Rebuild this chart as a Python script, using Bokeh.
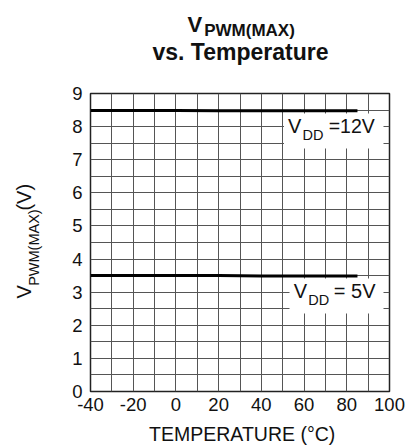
import math
from bokeh.plotting import figure
from bokeh.models import FixedTicker, ColumnDataSource, Range1d
from bokeh.layouts import column, row
from bokeh.core.properties import value
from bokeh.embed import file_html
from bokeh.resources import INLINE

# ---- data ----
temps = [-40, -20, 0, 20, 40, 60, 85]
v_12v = [8.49, 8.49, 8.49, 8.48, 8.48, 8.48, 8.48]
v_5v = [3.50, 3.50, 3.50, 3.50, 3.49, 3.49, 3.49]

x_ticks = [-40, -20, 0, 20, 40, 60, 80, 100]
x_minor = [-30, -10, 10, 30, 50, 70, 90]
y_ticks = [0, 1, 2, 3, 4, 5, 6, 7, 8, 9]
y_minor = [0.5, 1.5, 2.5, 3.5, 4.5, 5.5, 6.5, 7.5, 8.5]

title_main = "V"
title_sub = "PWM(MAX)"
title_line2 = "vs. Temperature"
ylab_main = "V"
ylab_sub = "PWM(MAX)"
ylab_unit = "(V)"
xlab = "TEMPERATURE (°C)"
lab12 = ["V", "DD", "=12V"]
lab5 = ["V", "DD", "= 5V"]

FONT = "Liberation Sans"
TXT = "#111111"

TOP_H = 80
BOT_Y = 420
LEFT_W = 48
MAIN_W = 412 - LEFT_W
MAIN_H = BOT_Y - TOP_H
BOT_H = 447 - BOT_Y


def blank(w, h):
    f = figure(width=w, height=h, x_range=Range1d(0, w), y_range=Range1d(0, h),
               output_backend="svg", toolbar_location=None,
               x_axis_type=None, y_axis_type=None,
               min_border=0, min_border_left=0, min_border_right=0,
               min_border_top=0, min_border_bottom=0)
    f.outline_line_color = None
    f.background_fill_color = "white"
    f.border_fill_color = "white"
    f.xgrid.visible = False
    f.ygrid.visible = False
    return f


def txt(f, x, y, s, size, bold=False, angle=0.0):
    f.text(x=[x], y=[y], text=[s], text_font=value(FONT),
           text_font_size=value(size),
           text_font_style="bold" if bold else "normal",
           text_align="center", text_baseline="middle",
           text_color=TXT, angle=angle)


# ---- title strip ----
top = blank(412, TOP_H)
ty = lambda wy: TOP_H - wy
txt(top, 194.3, ty(23.7), title_main, "22px", bold=True)
txt(top, 249, ty(29.7), title_sub, "17px", bold=True)
txt(top, 240, ty(51), title_line2, "23px", bold=True)

# ---- y label strip (vertical mapping measured and compensated) ----
left = blank(LEFT_W, MAIN_H)
def ly(sy):
    wy = 80 + (sy - 85.8) / 0.914
    return BOT_Y - wy
txt(left, 23.5, ly(292.5), ylab_main, "20px", angle=math.pi / 2)
txt(left, 33, ly(246.5), ylab_sub, "14.5px", angle=math.pi / 2)
txt(left, 23.5, ly(194), ylab_unit, "20px", angle=math.pi / 2)

# ---- bottom strip (x label) ----
bot = blank(412, BOT_H)
by = lambda wy: 447 - wy
txt(bot, 241.7, by(433), xlab, "19.5px")

# ---- main plot: frame at window x 90..389, y 93..391 ----
p = figure(width=MAIN_W, height=MAIN_H, x_range=(-40, 100), y_range=(0, 9),
           output_backend="svg", toolbar_location=None,
           min_border_left=90 - LEFT_W, min_border_right=MAIN_W - (389 - LEFT_W),
           min_border_top=93 - TOP_H, min_border_bottom=BOT_Y - 391)
p.background_fill_color = "white"
p.border_fill_color = "white"
p.outline_line_color = "#222222"
p.outline_line_width = 1.5

p.xaxis.ticker = FixedTicker(ticks=x_ticks, minor_ticks=x_minor)
p.yaxis.ticker = FixedTicker(ticks=y_ticks, minor_ticks=y_minor)
p.xaxis.major_label_overrides = {t: str(t) for t in x_ticks}
for ax in (p.xaxis, p.yaxis):
    ax.axis_line_color = None
    ax.major_tick_line_color = None
    ax.minor_tick_line_color = None
    ax.major_tick_out = 0
    ax.major_tick_in = 0
    ax.minor_tick_out = 0
    ax.minor_tick_in = 0
    ax.major_label_text_font = FONT
    ax.major_label_text_font_size = "18.5px"
    ax.major_label_text_color = TXT
p.yaxis.major_label_standoff = 8
p.xaxis.major_label_standoff = 6

for g in (p.xgrid, p.ygrid):
    g.grid_line_color = "#555555"
    g.grid_line_width = 1
    g.grid_line_alpha = 1
    g.minor_grid_line_color = "#555555"
    g.minor_grid_line_width = 1
    g.minor_grid_line_alpha = 1


def dx(px):
    return -40 + (px - 90) * 140 / 299


def dy(py):
    return (391 - py) * 9 / 298


# white backgrounds behind the series labels
p.quad(left=[dx(283.5), dx(289)], right=[dx(383), dx(383)],
       top=[dy(113), dy(278)], bottom=[dy(148), dy(313)],
       fill_color="white", line_color=None)

src = ColumnDataSource(dict(t=temps, a=v_12v, b=v_5v))
p.line("t", "a", source=src, line_color="black", line_width=3)
p.line("t", "b", source=src, line_color="black", line_width=3)

txt(p, dx(294.2), dy(125.5), lab12[0], "20px")
txt(p, dx(312.5), dy(134.3), lab12[1], "14.5px")
txt(p, dx(351.2), dy(125.5), lab12[2], "19.5px")

txt(p, dx(300), dy(290.9), lab5[0], "20px")
txt(p, dx(318.3), dy(299.3), lab5[1], "14.5px")
txt(p, dx(354.2), dy(290.9), lab5[2], "20px")

layout = column(top, row(left, p, spacing=0), bot, spacing=0)
open("out.html", "w").write(file_html(layout, INLINE))
